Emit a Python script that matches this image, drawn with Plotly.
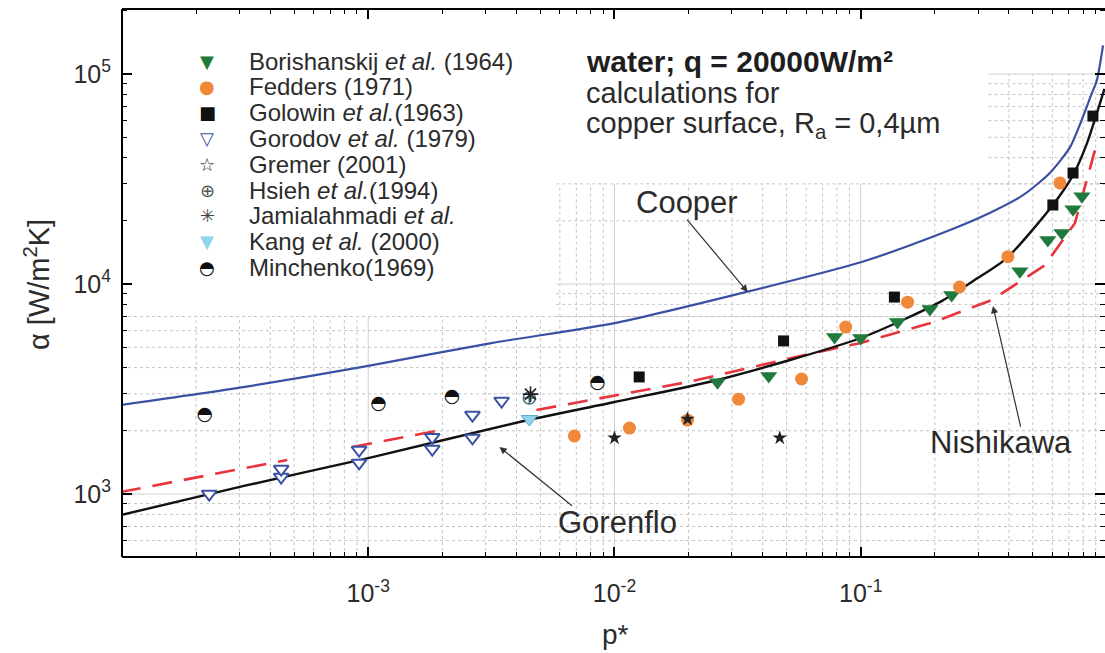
import plotly.graph_objects as go

# ---------------- data: reduced pressure p* and heat transfer coefficient alpha [W/m2K]
bor_p = [0.0262, 0.0423, 0.0783, 0.100, 0.141, 0.191, 0.234, 0.443, 0.575, 0.656, 0.728, 0.791]
bor_a = [3410, 3650, 5600, 5530, 6590, 7600, 8870, 11500, 16200, 17500, 22700, 26200]

fed_p = [0.00687, 0.0115, 0.0198, 0.0319, 0.0575, 0.0869, 0.155, 0.252, 0.396, 0.644]
fed_a = [1890, 2060, 2250, 2830, 3530, 6240, 8200, 9680, 13500, 30300]

gol_p = [0.0126, 0.0486, 0.137, 0.603, 0.728, 0.877]
gol_a = [3610, 5360, 8670, 23800, 33800, 63100]

gor_p = [2.26e-4, 4.43e-4, 4.43e-4, 9.18e-4, 9.18e-4, 1.82e-3, 1.82e-3, 2.65e-3, 2.65e-3, 3.48e-3]
gor_a = [1000, 1205, 1315, 1620, 1406, 1866, 1637, 2377, 1849, 2773]

gre_p = [0.0100, 0.0198, 0.0469]
gre_a = [1850, 2275, 1850]

hsi_p = [4.51e-3]
hsi_a = [2865]

jam_p = [4.56e-3]
jam_a = [2990]

kang_p = [4.51e-3]
kang_a = [2275]

min_p = [2.17e-4, 1.10e-3, 2.19e-3, 8.53e-3]
min_a = [2377, 2685, 2900, 3380]

# correlations
cooper_p = [9.9e-5, 3.16e-4, 1.0e-3, 3.16e-3, 0.01, 0.0316, 0.1, 0.2094, 0.334, 0.456,
            0.586, 0.708, 0.798, 0.869, 0.910, 0.964]
cooper_a = [2655, 3236, 4074, 5236, 6516, 8954, 12700, 17300, 21800, 26500,
            33800, 44900, 62400, 81300, 93500, 137000]

gorenflo_p = [9.9e-5, 3.16e-4, 1.0e-3, 4.11e-3, 0.01, 0.0262, 0.1, 0.2094, 0.290, 0.392,
              0.603, 0.728, 0.830, 0.910, 0.977]
gorenflo_a = [794, 1096, 1483, 2203, 2742, 3491, 5534, 8204, 10450, 13300,
              23800, 33000, 46900, 65200, 85100]

nish_p = [9.9e-5, 4.69e-4, None, 8.61e-4, 1.98e-3, None, 4.82e-3, 0.0113, 0.0198, 0.0668,
          0.1, 0.198, 0.341, 0.560, 0.741, 0.910]
nish_a = [1023, 1452, None, 1675, 2018, None, 2512, 3027, 3412, 4742,
          5236, 6592, 8395, 12300, 19500, 46900]

# legend entries: (glyph, colour, label)
legend_rows = [
    ("▼", "#1f7a3c", "Borishanskij <i>et al.</i> (1964)"),
    ("●", "#f0883a", "Fedders (1971)"),
    ("■", "#111111", "Golowin <i>et al.</i>(1963)"),
    ("▽", "#3a52a6", "Gorodov <i>et al.</i> (1979)"),
    ("☆", "#111111", "Gremer (2001)"),
    ("⊕", "#555555", "Hsieh <i>et al.</i>(1994)"),
    ("✳", "#444444", "Jamialahmadi <i>et al.</i>"),
    ("▼", "#8fd5ec", "Kang <i>et al.</i> (2000)"),
    ("◓", "#111111", "Minchenko(1969)"),
]

FONT = "Liberation Sans, Arial, sans-serif"
TXT = "#2b2b2b"

# ---------------- figure geometry
W, H = 1105, 653
ML, MR, MT, MB = 122, 0, 9, 96
PW, PH = W - ML - MR, H - MT - MB


def px(x):
    return (x - ML) / PW


def py(y):
    return (H - MB - y) / PH


fig = go.Figure()


# ---------------- background grid, drawn in three rectangular patches
def log_ticks(lo, hi):
    out = []
    for k in range(-6, 7):
        for m in range(1, 10):
            v = m * 10.0 ** k
            if lo * 0.9999 <= v <= hi * 1.0001:
                out.append((v, m == 1))
    return out


patches = [
    (1e-4, 1.0, 10 ** 2.70, 7000),
    (5.8e-3, 1.0, 7000, 30000),
    (0.33, 1.0, 30000, 1e5),
]
maj_x, maj_y, min_x, min_y = [], [], [], []
for x0, x1, y0, y1 in patches:
    for v, major in log_ticks(x0, x1):
        xs, ys = (maj_x, maj_y) if major else (min_x, min_y)
        xs += [v, v, None]
        ys += [y0, y1, None]
    for v, major in log_ticks(y0, y1):
        xs, ys = (maj_x, maj_y) if major else (min_x, min_y)
        xs += [x0, x1, None]
        ys += [v, v, None]

fig.add_trace(go.Scatter(x=min_x, y=min_y, mode="lines", hoverinfo="skip", showlegend=False,
                         line=dict(color="#c4c4c4", width=1, dash="dot")))
fig.add_trace(go.Scatter(x=maj_x, y=maj_y, mode="lines", hoverinfo="skip", showlegend=False,
                         line=dict(color="#cfcfcf", width=1)))

# ---------------- correlation curves
fig.add_trace(go.Scatter(x=cooper_p, y=cooper_a, mode="lines", showlegend=False,
                         line=dict(color="#3b4fa3", width=2.2, shape="spline", smoothing=0.7)))
fig.add_trace(go.Scatter(x=nish_p, y=nish_a, mode="lines", showlegend=False,
                         line=dict(color="#e8343c", width=2.6, dash="20px,12px")))
fig.add_trace(go.Scatter(x=gorenflo_p, y=gorenflo_a, mode="lines", showlegend=False,
                         line=dict(color="#111111", width=2.4, shape="spline", smoothing=0.7)))

# ---------------- measurements
fig.add_trace(go.Scatter(x=gor_p, y=gor_a, mode="markers", showlegend=False,
                         marker=dict(symbol="triangle-down", size=13, color="white",
                                     line=dict(color="#3a52a6", width=2))))
fig.add_trace(go.Scatter(x=bor_p, y=bor_a, mode="markers", showlegend=False,
                         marker=dict(symbol="triangle-down", size=15, color="#1f7a3c",
                                     line=dict(color="#1f7a3c", width=0))))
fig.add_trace(go.Scatter(x=fed_p, y=fed_a, mode="markers", showlegend=False,
                         marker=dict(symbol="circle", size=13, color="#f0883a",
                                     line=dict(width=0))))
fig.add_trace(go.Scatter(x=gol_p, y=gol_a, mode="markers", showlegend=False,
                         marker=dict(symbol="square", size=11, color="#111111",
                                     line=dict(width=0))))
fig.add_trace(go.Scatter(x=gre_p, y=gre_a, mode="markers", showlegend=False,
                         marker=dict(symbol="star", size=11, color="#222222",
                                     line=dict(width=0))))
fig.add_trace(go.Scatter(x=kang_p, y=kang_a, mode="markers", showlegend=False,
                         marker=dict(symbol="triangle-down", size=14, color="#8fd5ec",
                                     line=dict(color="#5aa8cc", width=1))))
fig.add_trace(go.Scatter(x=hsi_p, y=hsi_a, mode="markers", showlegend=False,
                         marker=dict(symbol="circle-cross-open", size=12, color="#3f6f78",
                                     line=dict(width=1.5))))
fig.add_trace(go.Scatter(x=jam_p, y=jam_a, mode="markers", showlegend=False,
                         marker=dict(symbol="asterisk-open", size=13, color="#222222",
                                     line=dict(width=1.6))))
fig.add_trace(go.Scatter(x=min_p, y=min_a, mode="text", showlegend=False,
                         text=["◓"] * len(min_p), textposition="middle center",
                         textfont=dict(family="DejaVu Sans", size=19, color="#111111")))

annotations = []

# ---------------- legend
for i, (glyph, col, label) in enumerate(legend_rows):
    yy = 61 + 25.8 * i
    annotations.append(dict(xref="paper", yref="paper", x=px(207), y=py(yy), text=glyph,
                            showarrow=False, xanchor="center", yanchor="middle",
                            font=dict(family="DejaVu Sans", size=18, color=col)))
    annotations.append(dict(xref="paper", yref="paper", x=px(247), y=py(yy), text=label,
                            showarrow=False, xanchor="left", yanchor="middle",
                            font=dict(family=FONT, size=24, color=TXT)))

# ---------------- condition text
annotations += [
    dict(xref="paper", yref="paper", x=px(584), y=py(61), text="<b>water; q = 20000W/m²</b>",
         showarrow=False, xanchor="left", yanchor="middle", font=dict(family=FONT, size=30, color="#1e1e1e")),
    dict(xref="paper", yref="paper", x=px(584), y=py(93), text="calculations for",
         showarrow=False, xanchor="left", yanchor="middle", font=dict(family=FONT, size=29, color=TXT)),
    dict(xref="paper", yref="paper", x=px(584), y=py(125), text="copper surface, R<sub>a</sub> = 0,4µm",
         showarrow=False, xanchor="left", yanchor="middle", font=dict(family=FONT, size=29, color=TXT)),
]

# ---------------- curve labels and pointers (arrow tips in log10 axis units)
annotations += [
    dict(xref="paper", yref="paper", x=px(687), y=py(203), text="Cooper", showarrow=False,
         xanchor="center", yanchor="middle", font=dict(family=FONT, size=31, color=TXT)),
    dict(xref="paper", yref="paper", x=px(617), y=py(522), text="Gorenflo", showarrow=False,
         xanchor="center", yanchor="middle", font=dict(family=FONT, size=31, color=TXT)),
    dict(xref="paper", yref="paper", x=px(1001), y=py(442), text="Nishikawa", showarrow=False,
         xanchor="center", yanchor="middle", font=dict(family=FONT, size=31, color=TXT)),
    dict(xref="x", yref="y", x=-1.459, y=3.962, text="", showarrow=True, ax=-62, ay=-74,
         arrowhead=2, arrowsize=1.2, arrowwidth=1.2, arrowcolor="#333333"),
    dict(xref="x", yref="y", x=-2.467, y=3.224, text="", showarrow=True, ax=74, ay=60,
         arrowhead=2, arrowsize=1.2, arrowwidth=1.2, arrowcolor="#333333"),
    dict(xref="x", yref="y", x=-0.463, y=3.895, text="", showarrow=True, ax=28, ay=122,
         arrowhead=2, arrowsize=1.2, arrowwidth=1.2, arrowcolor="#333333"),
]

# ---------------- axis titles
annotations += [
    dict(xref="paper", yref="paper", x=px(37), y=py(285), text="α [W/m<sup>2</sup>K]",
         showarrow=False, textangle=-90, xanchor="center", yanchor="middle",
         font=dict(family=FONT, size=29, color=TXT)),
    dict(xref="paper", yref="paper", x=px(615), y=py(634), text="p*",
         showarrow=False, xanchor="center", yanchor="middle",
         font=dict(family=FONT, size=28, color=TXT)),
]

# frame on left, bottom and top; the right side runs off the page
frame = [
    dict(type="line", xref="paper", yref="paper", x0=0, x1=0, y0=0, y1=1,
         line=dict(color="black", width=2)),
    dict(type="line", xref="paper", yref="paper", x0=0, x1=1, y0=0, y1=0,
         line=dict(color="black", width=2)),
    dict(type="line", xref="paper", yref="paper", x0=0, x1=1, y0=1, y1=1,
         line=dict(color="black", width=2)),
]

minor_x = [m * 10.0 ** k for k in range(-4, 0) for m in range(2, 10)]
minor_y = [m * 10.0 ** k for k in range(2, 6) for m in range(2, 10)]

axis_common = dict(type="log", showgrid=False, zeroline=False, ticks="inside", ticklen=10,
                   tickwidth=1.5, tickcolor="black", showline=False, mirror="ticks",
                   tickfont=dict(family=FONT, size=25, color=TXT))

fig.update_layout(
    width=W, height=H,
    margin=dict(l=ML, r=MR, t=MT, b=MB, pad=0),
    paper_bgcolor="white", plot_bgcolor="white",
    showlegend=False,
    xaxis=dict(axis_common, range=[-4.0, -0.008],
               tickvals=[1e-3, 1e-2, 1e-1],
               ticktext=["10<sup>-3</sup>", "10<sup>-2</sup>", "10<sup>-1</sup>"],
               ticklabelstandoff=19,
               minor=dict(ticks="inside", ticklen=5, tickwidth=1.2, tickcolor="black",
                          tickmode="array", tickvals=minor_x, showgrid=False)),
    yaxis=dict(axis_common, range=[2.70, 5.31],
               tickvals=[1e3, 1e4, 1e5],
               ticktext=["10<sup>3</sup>", "10<sup>4</sup>", "10<sup>5</sup>"],
               ticklabelstandoff=10,
               minor=dict(ticks="inside", ticklen=5, tickwidth=1.2, tickcolor="black",
                          tickmode="array", tickvals=minor_y, showgrid=False)),
    shapes=frame,
    annotations=annotations,
)

fig.write_html("out.html")
